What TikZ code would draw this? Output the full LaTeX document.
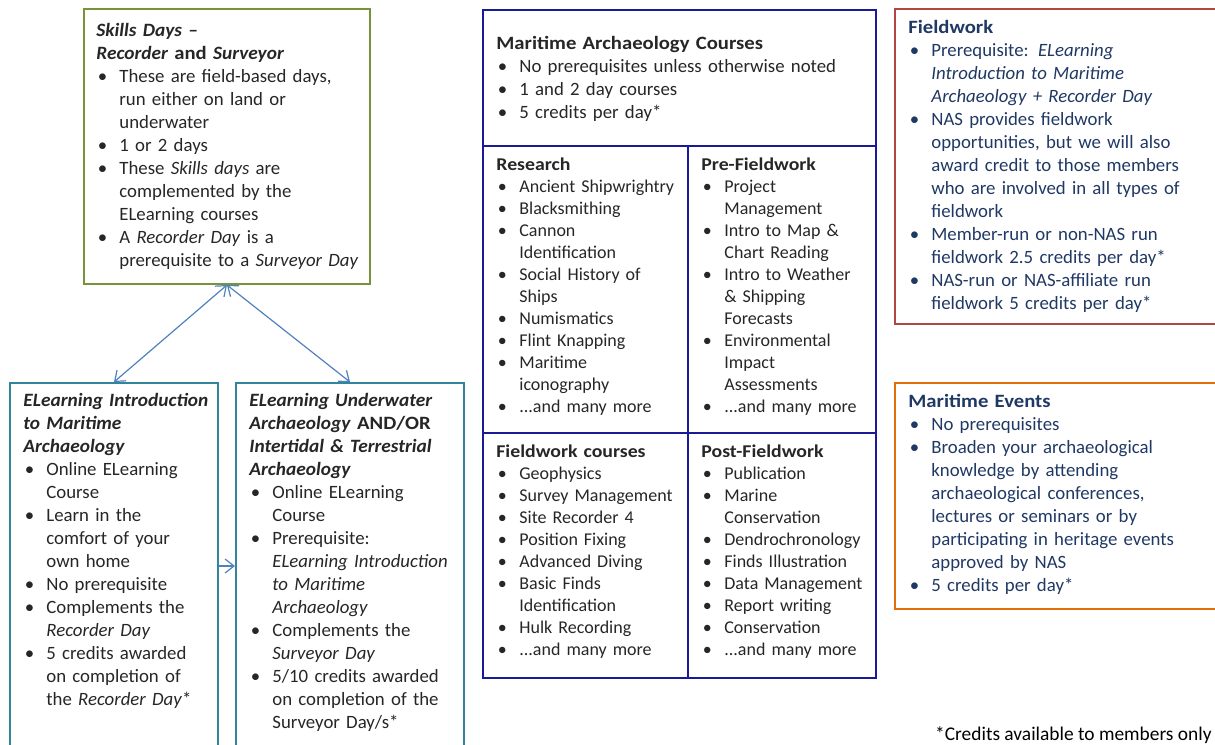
\documentclass[tikz,border=0pt]{standalone}
\usepackage{fontspec}
\setmainfont{Carlito}[BoldFeatures={FakeStretch=1.1},BoldItalicFeatures={FakeStretch=1.03}]
\usepackage{tikz}
\usetikzlibrary{arrows.meta}
\definecolor{skillgreen}{RGB}{119,147,60}
\definecolor{elearnteal}{RGB}{49,133,156}
\definecolor{coursenavy}{RGB}{26,26,150}
\definecolor{fieldred}{RGB}{178,70,68}
\definecolor{eventorange}{RGB}{228,108,10}
\definecolor{linkblue}{RGB}{79,129,189}
\definecolor{nastext}{RGB}{31,56,100}
\definecolor{bodygray}{RGB}{38,38,38}
\newcommand{\bul}{\par\hangindent=11.5pt\hangafter=1\noindent\makebox[11.5pt][l]{\hspace{0.7pt}\textbullet}}

\begin{document}
\begin{tikzpicture}[x=0.5pt,y=-0.5pt,
  panel/.style={draw,line width=1pt,anchor=north west,inner sep=0pt},
  blurb/.style={anchor=north west,inner sep=0pt,align=left,text width=200pt,
    font=\fontsize{9.4}{11.5}\selectfont},
  cell/.style={blurb,font=\fontsize{9}{11}\selectfont},
  link/.style={linkblue,line width=0.6pt}]
\useasboundingbox (0,0) rectangle (1215,744);
\clip (0,0) rectangle (1215,744);
% boxes
\node[panel,skillgreen,minimum width=143pt,minimum height=137.5pt] (skills) at (83,8) {};
\node[panel,elearnteal,minimum width=104pt,minimum height=183pt] (intro) at (9,382) {};
\node[panel,elearnteal,minimum width=114pt,minimum height=183pt] (under) at (235,382) {};
\node[panel,coursenavy,minimum width=196.5pt,minimum height=334pt] (courses) at (482,9) {};
\node[panel,fieldred,minimum width=165pt,minimum height=157.5pt] (field) at (894,8) {};
\node[panel,eventorange,minimum width=165pt,minimum height=113pt] (events) at (894,382) {};
\draw[coursenavy,line width=1pt] (482,146) -- (875,146);
\draw[coursenavy,line width=1pt] (482,433) -- (875,433);
\draw[coursenavy,line width=1pt] (688,146) -- (688,677);
% arrows
\draw[link,{Straight Barb[length=4.5pt,width=7pt]}-{Straight Barb[length=4.5pt,width=7pt]}] (skills.south) -- (intro.north);
\draw[link,{Straight Barb[length=4.5pt,width=7pt]}-{Straight Barb[length=4.5pt,width=7pt]}] (skills.south) -- (under.north);
\draw[link,-{Straight Barb[length=4.5pt,width=7pt]}] (intro.east) -- (under.west);
% texts
\node[blurb,bodygray] (skillstxt) at (96,23) {\textbf{\textit{Skills Days –}}\\
\textbf{\textit{Recorder} and \textit{Surveyor}}
\bul These are field-based days,\newline run either on land or\newline underwater
\bul 1 or 2 days
\bul These \textit{Skills days} are\newline complemented by the\newline ELearning courses
\bul A \textit{Recorder Day} is a\newline prerequisite to a \textit{Surveyor Day}\par};
\node[blurb,bodygray] (introtxt) at (23,393) {\textbf{\textit{ELearning Introduction\\to Maritime\\Archaeology}}
\bul Online ELearning\newline Course
\bul Learn in the\newline comfort of your\newline own home
\bul No prerequisite
\bul Complements the\newline \textit{Recorder Day}
\bul 5 credits awarded\newline on completion of\newline the \textit{Recorder Day}*\par};
\node[blurb,bodygray] (undertxt) at (249,393) {\textbf{\textit{ELearning Underwater\\Archaeology} AND/OR\\\textit{Intertidal \& Terrestrial\\Archaeology}}
\bul Online ELearning\newline Course
\bul Prerequisite:\newline \textit{ELearning Introduction}\newline \textit{to Maritime}\newline \textit{Archaeology}
\bul Complements the\newline \textit{Surveyor Day}
\bul 5/10 credits awarded\newline on completion of the\newline Surveyor Day/s*\par};
\node[blurb,bodygray] (coursestxt) at (496,36) {\textbf{Maritime Archaeology Courses}
\bul No prerequisites unless otherwise noted
\bul 1 and 2 day courses
\bul 5 credits per day*\par};
\node[cell,bodygray] (research) at (496,157) {\textbf{Research}
\bul Ancient Shipwrightry
\bul Blacksmithing
\bul Cannon\newline Identification
\bul Social History of\newline Ships
\bul Numismatics
\bul Flint Knapping
\bul Maritime\newline iconography
\bul ...and many more\par};
\node[cell,bodygray] (prefield) at (701,157) {\textbf{Pre-Fieldwork}
\bul Project\newline Management
\bul Intro to Map \&\newline Chart Reading
\bul Intro to Weather\newline \& Shipping\newline Forecasts
\bul Environmental\newline Impact\newline Assessments
\bul ...and many more\par};
\node[cell,bodygray] (fieldcourses) at (496,444) {\textbf{Fieldwork courses}
\bul Geophysics
\bul Survey Management
\bul Site Recorder 4
\bul Position Fixing
\bul Advanced Diving
\bul Basic Finds\newline Identification
\bul Hulk Recording
\bul ...and many more\par};
\node[cell,bodygray] (postfield) at (701,444) {\textbf{Post-Fieldwork}
\bul Publication
\bul Marine\newline Conservation
\bul Dendrochronology
\bul Finds Illustration
\bul Data Management
\bul Report writing
\bul Conservation
\bul ...and many more\par};
\node[blurb,nastext] (fieldtxt) at (908,20) {\textbf{Fieldwork}
\bul Prerequisite: \textit{ELearning}\newline \textit{Introduction to Maritime}\newline \textit{Archaeology + Recorder Day}
\bul NAS provides fieldwork\newline opportunities, but we will also\newline award credit to those members\newline who are involved in all types of\newline fieldwork
\bul Member-run or non-NAS run\newline fieldwork 2.5 credits per day*
\bul NAS-run or NAS-affiliate run\newline fieldwork 5 credits per day*\par};
\node[blurb,nastext] (eventstxt) at (908,394) {\textbf{Maritime Events}
\bul No prerequisites
\bul Broaden your archaeological\newline knowledge by attending\newline archaeological conferences,\newline lectures or seminars or by\newline participating in heritage events\newline approved by NAS
\bul 5 credits per day*\par};
\node[anchor=base east,inner sep=0pt,font=\fontsize{9.7}{11.5}\selectfont] (note) at (1212,740) {*Credits available to members only};
\end{tikzpicture}
\end{document}
